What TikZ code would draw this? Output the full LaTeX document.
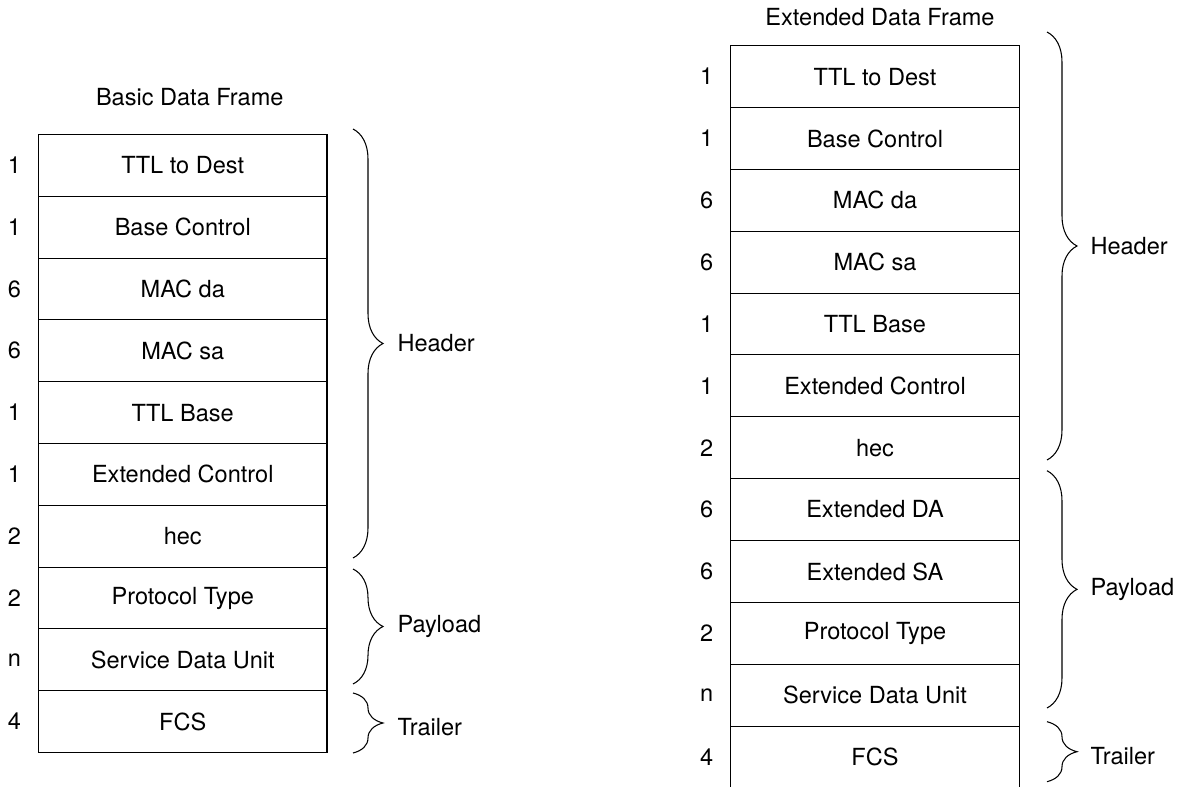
\documentclass[tikz,border=0pt]{standalone}
\usepackage{fontspec}
\setmainfont{TeX Gyre Heros}
\usetikzlibrary{positioning,decorations.pathreplacing}
\tikzset{
  every node/.style={font=\fontsize{13.4pt}{16pt}\selectfont},
  field/.style={draw,line width=0.6pt,minimum width=5.77cm,minimum height=1.236cm,inner sep=0,outer sep=0,anchor=north},
  count/.style={minimum width=0.35cm,inner sep=0},
  brc/.style={decorate,decoration={brace,amplitude=0.6cm},line width=0.6pt},
  part/.style={midway,anchor=west,xshift=0.88cm,inner sep=0},
}
\begin{document}
\begin{tikzpicture}
    \useasboundingbox (0,0) rectangle (23.54,15.72);
    % basic data frame
    \coordinate (basb0) at (3.655,13.03);
    \foreach \n/\txt [count=\i, evaluate=\i as \j using int(\i-1)] in {1/TTL to Dest,1/Base Control,6/MAC da,6/MAC sa,
        1/TTL Base,1/Extended Control,2/hec,2/Protocol Type,n/Service Data Unit,4/FCS} {
        \node[field] (bas\i) at (basb\j) {\txt};
        \coordinate (basb\i) at (bas\i.south);
        \node[count,left=0.3cm of bas\i.west] (basn\i) {\n};
      }
    \node[inner sep=0,anchor=south,above=0.57cm of basb0,xshift=0.14cm] (bastitle) {Basic Data Frame};
    % extended data frame
    \coordinate (extb0) at (17.5,14.806);
    \foreach \n/\txt [count=\i, evaluate=\i as \j using int(\i-1)] in {1/TTL to Dest,1/Base Control,6/MAC da,6/MAC sa,
        1/TTL Base,1/Extended Control,2/hec,6/Extended DA,6/Extended SA,
        2/Protocol Type,n/Service Data Unit,4/FCS} {
        \node[field,minimum height=1.237cm] (ext\i) at (extb\j) {\txt};
        \coordinate (extb\i) at (ext\i.south);
        \node[count,left=0.3cm of ext\i.west] (extn\i) {\n};
      }
    \node[inner sep=0,anchor=south,above=0.39cm of extb0,xshift=0.1cm] (exttitle) {Extended Data Frame};
    % braces
    \coordinate (bh1) at (7.06,13.14);
    \coordinate (bh2) at (7.06,4.56);
    \coordinate (bp1) at (7.06,4.34);
    \coordinate (bp2) at (7.06,2.04);
    \coordinate (bt1) at (7.06,1.86);
    \coordinate (bt2) at (7.06,0.66);
    \coordinate (eh1) at (20.94,15.08);
    \coordinate (eh2) at (20.94,6.52);
    \coordinate (ep1) at (20.94,6.306);
    \coordinate (ep2) at (20.94,1.56);
    \coordinate (et1) at (20.94,1.286);
    \coordinate (et2) at (20.94,0.086);
    \draw[brc] (bh1) -- (bh2) node[part] (bhead) {Header};
    \draw[brc] (bp1) -- (bp2) node[part] (bpay) {Payload};
    \draw[brc] (bt1) -- (bt2) node[part,yshift=-0.08cm] (btrail) {Trailer};
    \draw[brc] (eh1) -- (eh2) node[part,xshift=-0.02cm] (ehead) {Header};
    \draw[brc] (ep1) -- (ep2) node[part,xshift=-0.02cm] (epay) {Payload};
    \draw[brc] (et1) -- (et2) node[part,xshift=-0.02cm,yshift=-0.08cm] (etrail) {Trailer};
  \end{tikzpicture}
\end{document}
